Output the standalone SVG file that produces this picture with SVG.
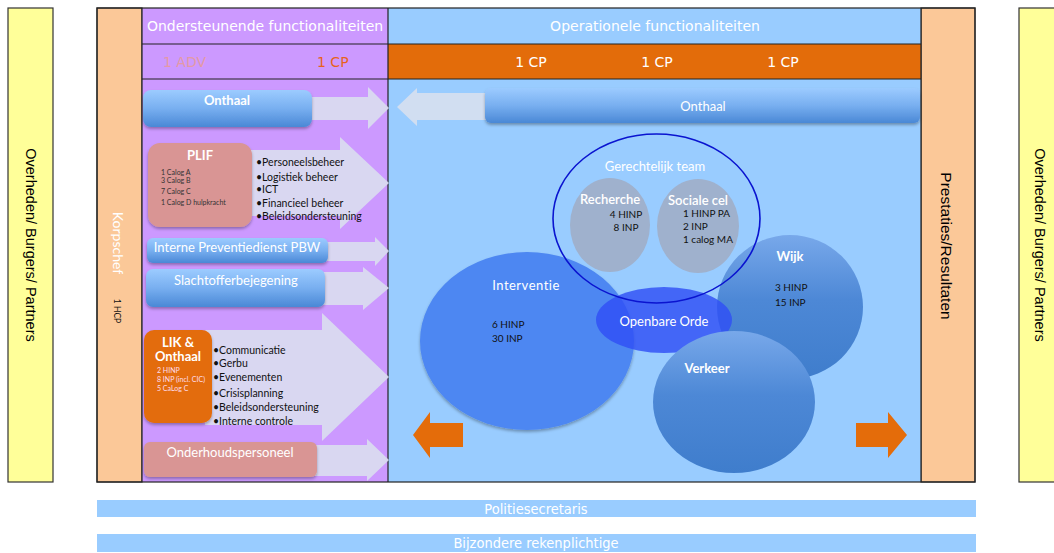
<svg xmlns="http://www.w3.org/2000/svg" width="1054" height="553" viewBox="0 0 1054 553">
<style>
.hdr{font-family:"DejaVu Sans",Verdana,sans-serif;font-size:14px;fill:#fff}
.side{font-family:"Liberation Sans",Arial,sans-serif;font-size:14.5px;fill:#000}
.lbl{font-family:Lato,"Liberation Sans",sans-serif;font-size:13px;fill:#fff;text-anchor:middle}
.b{font-weight:bold}
.bul{font-family:Lato,"Liberation Sans",sans-serif;font-size:10.5px;fill:#111}
.sm{font-family:Lato,"Liberation Sans",sans-serif;font-size:7px}
.dk{font-family:Lato,"Liberation Sans",sans-serif;font-size:10px;fill:#111}
.garrow{fill:#dadcf0;opacity:.92}
.oarrow{fill:#e46c0a}
.ln{stroke:#222;stroke-width:1.2;fill:none}
.bar{fill:#99ccff}
.bartxt{font-family:"DejaVu Sans Condensed","DejaVu Sans",sans-serif;font-size:14.5px;fill:#fff;text-anchor:middle}
</style>
<defs>
<linearGradient id="gbtn" x1="0" y1="0" x2="0" y2="1">
<stop offset="0" stop-color="#9ccbff"/><stop offset="0.5" stop-color="#78aff0"/><stop offset="1" stop-color="#4a88d6"/>
</linearGradient>
<linearGradient id="gball" x1="0" y1="0" x2="0" y2="1">
<stop offset="0" stop-color="#78a8ea"/><stop offset="0.45" stop-color="#4d88d6"/><stop offset="1" stop-color="#3f7dcc"/>
</linearGradient>
<filter id="sh" x="-10%" y="-20%" width="120%" height="150%">
<feDropShadow dx="0" dy="2" stdDeviation="1.5" flood-color="#000" flood-opacity="0.3"/>
</filter>
</defs>

<g id="outer-left">
<rect x="8" y="8" width="45" height="474" fill="#ffff99" stroke="#333" stroke-width="1.2"/>
<text class="side" transform="translate(26,245) rotate(90)" text-anchor="middle">Overheden/ Burgers/ Partners</text>
</g>
<g id="outer-right">
<rect x="1019" y="8" width="50" height="474" fill="#ffff99" stroke="#333" stroke-width="1.2"/>
<text class="side" transform="translate(1035,245) rotate(90)" text-anchor="middle">Overheden/ Burgers/ Partners</text>
</g>

<g id="korpschef">
<rect x="97" y="8" width="45" height="474" fill="#fbc898" stroke="#333" stroke-width="1.2"/>
<text transform="translate(113,243) rotate(90)" text-anchor="middle" font-family="Lato,'Liberation Sans',sans-serif" font-size="14" fill="#fff">Korpschef</text>
<text transform="translate(114,311) rotate(90)" text-anchor="middle" font-family="Lato,'Liberation Sans',sans-serif" font-size="8.5" fill="#111">1 HCP</text>
</g>

<g id="prestaties">
<rect x="921" y="8" width="54" height="474" fill="#fbc898" stroke="#333" stroke-width="1.2"/>
<text class="side" transform="translate(941,246) rotate(90)" text-anchor="middle" style="font-size:15.5px">Prestaties/Resultaten</text>
</g>

<g id="ondersteunend">
<rect x="142" y="8" width="246" height="474" fill="#cc99ff"/>
<text class="hdr" x="265" y="31" text-anchor="middle">Ondersteunende functionaliteiten</text>
<text class="hdr" x="163" y="67" style="fill:#e39aa6">1 ADV</text>
<text class="hdr" x="317" y="67" style="fill:#e8621c">1 CP</text>
</g>

<g id="operationeel">
<rect x="388" y="8" width="533" height="474" fill="#99ccff"/>
<rect x="388" y="44" width="533" height="35" fill="#e36c0a"/>
<text class="hdr" x="655" y="31" text-anchor="middle">Operationele functionaliteiten</text>
<text class="hdr" x="531" y="67" text-anchor="middle">1 CP</text>
<text class="hdr" x="657" y="67" text-anchor="middle">1 CP</text>
<text class="hdr" x="783" y="67" text-anchor="middle">1 CP</text>
</g>

<g id="gridlines">
<rect class="ln" x="97" y="8" width="878" height="474"/>
<line class="ln" x1="142" y1="44" x2="921" y2="44"/>
<line class="ln" x1="142" y1="79" x2="921" y2="79"/>
<line class="ln" x1="388" y1="8" x2="388" y2="482"/>
<line class="ln" x1="142" y1="8" x2="142" y2="482"/>
<line class="ln" x1="921" y1="8" x2="921" y2="482"/>
</g>

<g id="connectors">
<polygon class="garrow" points="220,97 368,97 368,87 389,108 368,129 368,120 220,120"/>
<polygon class="garrow" points="250,150 340,150 340,137 389,183 340,229 340,216 250,216"/>
<polygon class="garrow" points="320,242 375,242 375,237 389,251 375,266 375,261 320,261"/>
<polygon class="garrow" points="320,272 363,272 363,267 389,288 363,310 363,305 320,305"/>
<polygon class="garrow" points="205,330 322,330 322,313 389,377 322,441 322,425 205,425"/>
<polygon class="garrow" points="310,445 367,445 367,439 389,460 367,481 367,476 310,476"/>
<polygon fill="#d6e0f0" opacity="0.92" points="490,93 417,93 417,88 397,107 417,126 417,120 490,120"/>
<polygon class="oarrow" points="463,423 430,423 430,412 413,435 430,458 430,447 463,447"/>
<polygon class="oarrow" points="856,423 888,423 888,412 907,435 888,458 888,447 856,447"/>
</g>

<g id="onthaal-left">
<rect x="143" y="90" width="169" height="37" rx="8" fill="url(#gbtn)" filter="url(#sh)"/>
<text class="lbl b" x="227" y="105">Onthaal</text>
</g>

<g id="plif">
<rect x="148" y="143" width="104" height="84" rx="12" fill="#d99594" filter="url(#sh)"/>
<text class="lbl b" x="200" y="160" font-size="12">PLIF</text>
<text class="sm" x="161" y="175" fill="#333">1 Calog A</text>
<text class="sm" x="161" y="183" fill="#333">3 Calog B</text>
<text class="sm" x="161" y="193.5" fill="#333">7 Calog C</text>
<text class="sm" x="161" y="204.5" fill="#333">1 Calog D hulpkracht</text>
<text class="bul" x="256" y="166">•Personeelsbeheer</text>
<text class="bul" x="256" y="181">•Logistiek beheer</text>
<text class="bul" x="256" y="193">•ICT</text>
<text class="bul" x="256" y="207">•Financieel beheer</text>
<text class="bul" x="256" y="220">•Beleidsondersteuning</text>
</g>

<g id="ipp">
<rect x="147" y="238" width="181" height="25" rx="6" fill="url(#gbtn)" filter="url(#sh)"/>
<text class="lbl" x="237" y="251.5">Interne Preventiedienst PBW</text>
</g>

<g id="slachtoffer">
<rect x="146" y="269" width="179" height="38" rx="7" fill="url(#gbtn)" filter="url(#sh)"/>
<text class="lbl" x="236" y="284.5">Slachtofferbejegening</text>
</g>

<g id="lik">
<rect x="144" y="330" width="68" height="93" rx="10" fill="#e36c0a" filter="url(#sh)"/>
<text class="lbl b" x="178" y="346.5" font-size="12">LIK &amp;</text>
<text class="lbl b" x="178" y="360.5" font-size="12">Onthaal</text>
<text class="sm" x="157" y="372.5" fill="#fde">2 HINP</text>
<text class="sm" x="157" y="381.5" fill="#fde">8 INP (incl. CIC)</text>
<text class="sm" x="157" y="390.5" fill="#fde">5 CaLog C</text>
<text class="bul" x="213" y="353.5">•Communicatie</text>
<text class="bul" x="213" y="366.5">•Gerbu</text>
<text class="bul" x="213" y="380.5">•Evenementen</text>
<text class="bul" x="213" y="396.5">•Crisisplanning</text>
<text class="bul" x="213" y="410.5">•Beleidsondersteuning</text>
<text class="bul" x="213" y="424.5">•Interne controle</text>
</g>

<g id="onderhoud">
<rect x="144" y="442" width="173" height="35" rx="6" fill="#d99594" filter="url(#sh)"/>
<text class="lbl" x="230" y="456.5">Onderhoudspersoneel</text>
</g>

<g id="onthaal-right">
<rect x="485" y="88" width="435" height="35" rx="6" fill="url(#gbtn)" filter="url(#sh)"/>
<text class="lbl" x="703" y="110.5">Onthaal</text>
</g>

<g id="interventie">
<ellipse cx="527" cy="341" rx="107" ry="89" fill="#4d87f2" filter="url(#sh)"/>
<text class="lbl" x="526" y="290" font-size="13.5" letter-spacing="0.5">Interventie</text>
<text class="dk" x="492" y="327.5">6 HINP</text>
<text class="dk" x="492" y="341.5">30 INP</text>
</g>

<g id="wijk">
<ellipse cx="790" cy="307" rx="73" ry="72" fill="url(#gball)"/>
<text class="lbl b" x="790" y="261" font-size="14">Wijk</text>
<text class="dk" x="775" y="290.5">3 HINP</text>
<text class="dk" x="775" y="305.5">15 INP</text>
</g>

<g id="recherche">
<ellipse cx="610" cy="225" rx="40" ry="47" fill="#9fb1cd"/>
<text class="lbl" x="610" y="204" font-size="11.5" font-weight="600">Recherche</text>
<text class="dk" x="626" y="217.5" text-anchor="middle">4 HINP</text>
<text class="dk" x="626" y="230.5" text-anchor="middle">8 INP</text>
</g>

<g id="sociale-cel">
<ellipse cx="698" cy="226" rx="41" ry="47" fill="#9fb1cd"/>
<text class="lbl" x="698" y="205" font-size="11.5" font-weight="600">Sociale cel</text>
<text class="dk" x="683" y="217">1 HINP PA</text>
<text class="dk" x="683" y="230">2 INP</text>
<text class="dk" x="683" y="243">1 calog MA</text>
</g>

<g id="openbare-orde">
<ellipse cx="664" cy="320" rx="68" ry="33" fill="#2f4ff5" opacity="0.82"/>
<text class="lbl" x="664" y="326">Openbare Orde</text>
</g>

<g id="verkeer">
<ellipse cx="734" cy="402" rx="81" ry="71" fill="url(#gball)"/>
<text class="lbl b" x="707" y="373" font-size="14">Verkeer</text>
</g>

<g id="gerechtelijk-team">
<ellipse cx="656.5" cy="218.5" rx="103.5" ry="84.5" fill="none" stroke="#0a14d0" stroke-width="1.6"/>
<text class="lbl" x="655" y="171" font-size="15">Gerechtelijk team</text>
</g>

<g id="politiesecretaris">
<rect class="bar" x="97" y="500" width="879" height="17"/>
<text class="bartxt" x="536" y="513.5">Politiesecretaris</text>
</g>
<g id="bijzondere-rekenplichtige">
<rect class="bar" x="97" y="534" width="879" height="18"/>
<text class="bartxt" x="536" y="548">Bijzondere rekenplichtige</text>
</g>
</svg>
